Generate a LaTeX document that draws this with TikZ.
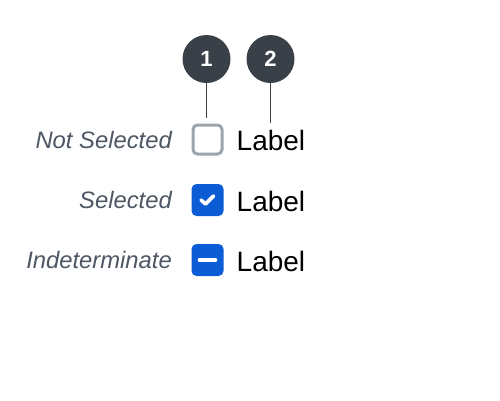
\documentclass[tikz,border=0pt]{standalone}
\usepackage{fontspec}
\setmainfont{Liberation Sans}
\usetikzlibrary{calc}

\definecolor{pindark}{HTML}{3A4047}
\definecolor{boxgray}{HTML}{9CA5AC}
\definecolor{boxblue}{HTML}{0B5CD5}
\definecolor{statetext}{HTML}{4C5763}

\tikzset{
  pin marker/.style={circle, fill=pindark, text=white, minimum size=48pt,
    inner sep=0pt, font=\fontsize{22}{22}\selectfont\bfseries},
  pin line/.style={draw=pindark, line width=1.8pt},
  box off/.style={rectangle, rounded corners=4.5pt, draw=boxgray,
    line width=3pt, minimum size=29pt, inner sep=0pt},
  box on/.style={rectangle, rounded corners=5pt, fill=boxblue,
    minimum size=32pt, inner sep=0pt},
  box mark/.style={draw=white, line width=3.6pt, line cap=round,
    line join=round},
  state name/.style={anchor=base east, inner sep=0pt, text=statetext,
    font=\fontsize{23.8}{24}\selectfont\itshape},
  box label/.style={anchor=base west, inner sep=0pt, text=black,
    font=\fontsize{28}{28}\selectfont},
}

\begin{document}
\begin{tikzpicture}[x=1pt,y=-1pt]
  \useasboundingbox (0,0) rectangle (500,400);

  % the three rows
  \node [box off] (cb1) at (207.5,139.5) {};
  \node [box on] (cb2) at (207.5,200) {};
  \node [box on] (cb3) at (207.5,260) {};

  \node [state name] (st1) at (172,148) {Not Selected};
  \node [state name] (st2) at (172,208) {Selected};
  \node [state name] (st3) at (172,268) {Indeterminate};

  \node [box label] (lb1) at (236.5,150) {Label};
  \node [box label] (lb2) at (236.5,211) {Label};
  \node [box label] (lb3) at (236.5,271) {Label};

  % tick and dash
  \draw [box mark] ($(cb2)+(-6.5,0)$) -- ($(cb2)+(-2,4)$)
    -- ($(cb2)+(6,-4)$);
  \draw [box mark] ($(cb3)+(-8,0)$) -- ($(cb3)+(8,0)$);

  % numbered pins
  \node [pin marker] (pin1) at (206.5,59) {1};
  \node [pin marker] (pin2) at (270.5,59) {2};
  \coordinate (end1) at (206.5,118);
  \coordinate (end2) at (270.5,123);
  \draw [pin line] (pin1) -- (end1);
  \draw [pin line] (pin2) -- (end2);
\end{tikzpicture}
\end{document}
